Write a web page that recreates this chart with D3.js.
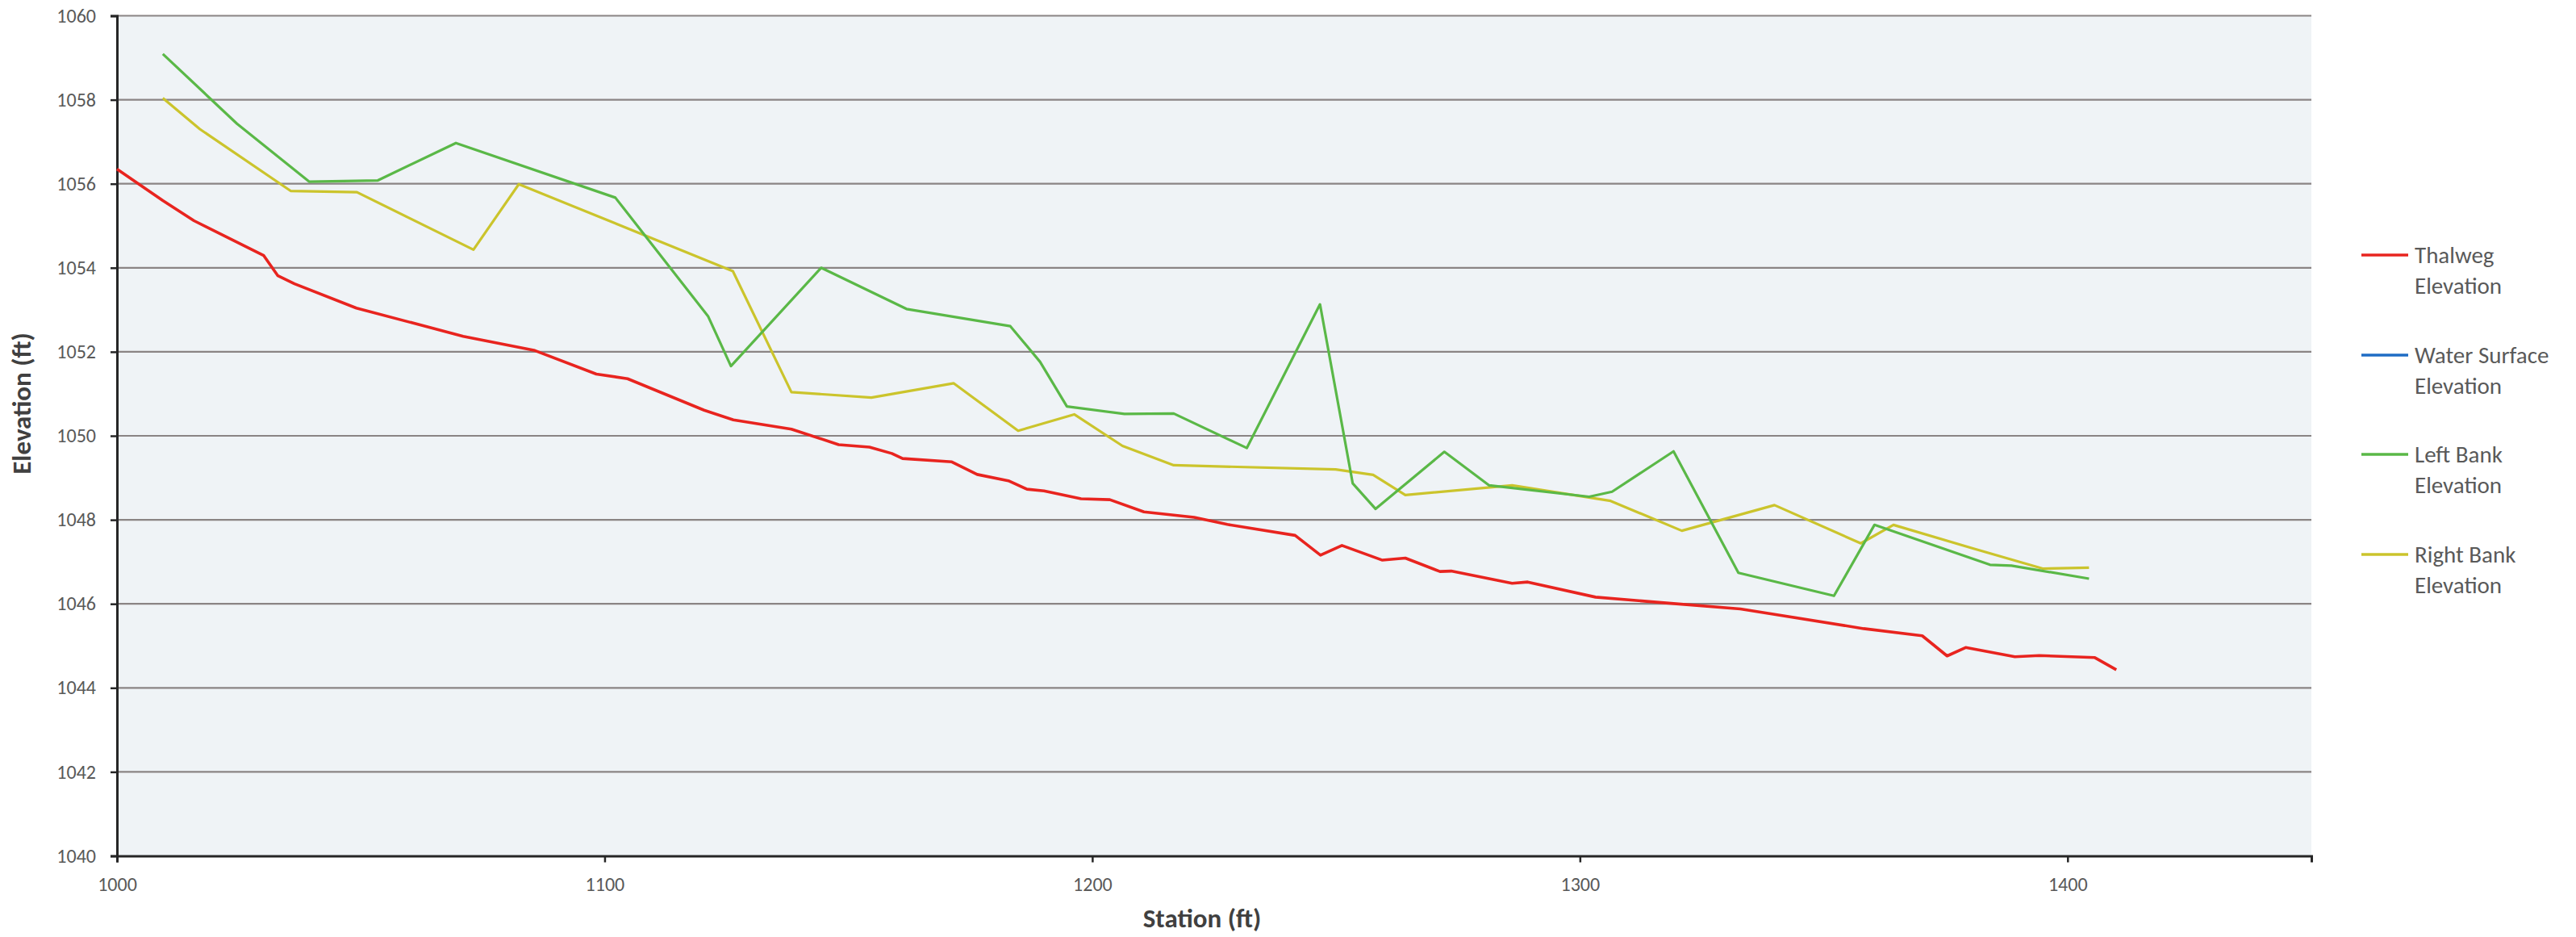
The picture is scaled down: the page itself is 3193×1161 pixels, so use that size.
<!DOCTYPE html>
<html>
<head>
<meta charset="utf-8">
<script src="https://cdn.jsdelivr.net/npm/d3@7"></script>
<style>
  html, body { margin: 0; padding: 0; background: #ffffff; }
  svg { display: block; }
  text { font-family: Calibri, Carlito, Lato, "Open Sans", sans-serif; }
</style>
</head>
<body>
<svg id="chart" width="3193" height="1161"></svg>
<script>
// ---------------- DATA ----------------
const thalwegStation = [1000.0, 1009.4, 1015.8, 1030.1, 1033.0, 1036.4, 1049.1, 1071.0, 1085.7, 1098.3, 1104.7, 1120.4, 1126.4, 1138.3, 1148.0, 1154.3, 1158.9, 1161.1, 1171.2, 1176.4, 1182.8, 1186.6, 1190.1, 1197.7, 1203.6, 1210.6, 1220.9, 1227.7, 1241.6, 1246.8, 1251.2, 1259.5, 1264.2, 1271.3, 1273.6, 1286.1, 1289.3, 1303.2, 1317.7, 1332.9, 1358.2, 1370.2, 1375.3, 1379.1, 1389.2, 1394.2, 1405.6, 1410.0];
const thalwegElev    = [1056.35, 1055.60, 1055.12, 1054.29, 1053.81, 1053.62, 1053.04, 1052.37, 1052.03, 1051.47, 1051.36, 1050.61, 1050.38, 1050.16, 1049.79, 1049.73, 1049.58, 1049.46, 1049.38, 1049.08, 1048.93, 1048.73, 1048.69, 1048.50, 1048.48, 1048.19, 1048.06, 1047.89, 1047.63, 1047.16, 1047.39, 1047.04, 1047.09, 1046.77, 1046.78, 1046.49, 1046.52, 1046.16, 1046.02, 1045.88, 1045.41, 1045.24, 1044.76, 1044.96, 1044.74, 1044.77, 1044.72, 1044.43];

const waterStation = [];
const waterElev    = [];

const leftStation = [1009.4, 1024.6, 1039.4, 1053.5, 1069.5, 1102.2, 1121.2, 1125.9, 1144.4, 1161.9, 1183.2, 1189.3, 1194.8, 1206.6, 1216.7, 1231.7, 1246.7, 1253.4, 1258.1, 1272.2, 1281.4, 1301.9, 1306.6, 1319.2, 1332.5, 1352.1, 1360.4, 1384.1, 1388.5, 1404.4];
const leftElev    = [1059.09, 1057.43, 1056.05, 1056.08, 1056.97, 1055.67, 1052.85, 1051.66, 1054.00, 1053.02, 1052.61, 1051.76, 1050.70, 1050.52, 1050.53, 1049.71, 1053.13, 1048.87, 1048.26, 1049.62, 1048.82, 1048.55, 1048.67, 1049.63, 1046.74, 1046.19, 1047.88, 1046.93, 1046.91, 1046.60];

const rightStation = [1009.4, 1017.0, 1035.6, 1049.2, 1073.1, 1082.4, 1126.3, 1138.3, 1154.7, 1171.6, 1184.8, 1196.3, 1206.2, 1216.7, 1249.9, 1257.6, 1264.2, 1286.1, 1306.3, 1320.9, 1339.9, 1357.6, 1364.3, 1380.3, 1394.9, 1404.4];
const rightElev    = [1058.04, 1057.30, 1055.83, 1055.80, 1054.43, 1055.99, 1053.92, 1051.04, 1050.91, 1051.25, 1050.12, 1050.51, 1049.76, 1049.30, 1049.20, 1049.07, 1048.59, 1048.82, 1048.45, 1047.74, 1048.35, 1047.44, 1047.88, 1047.33, 1046.84, 1046.86];

const seriesNames  = ["Thalweg Elevation", "Water Surface Elevation", "Left Bank Elevation", "Right Bank Elevation"];
const seriesColors = ["#e8241f", "#1f6cc4", "#5ab847", "#cbc42c"];

const xTickValues = [1000, 1100, 1200, 1300, 1400];
const yTickValues = [1040, 1042, 1044, 1046, 1048, 1050, 1052, 1054, 1056, 1058, 1060];
const xDomain = [1000, 1450];
const yDomain = [1040, 1060];

const xTitle = "Station (ft)";
const yTitle = "Elevation (ft)";

// ---------------- LAYOUT ----------------
const svg = d3.select("#chart");
const plot = { left: 145, right: 2865, top: 19.5, bottom: 1060.5 };

const x = d3.scaleLinear().domain(xDomain).range([plot.left, plot.right]);
const y = d3.scaleLinear().domain(yDomain).range([plot.bottom, plot.top]);

// plot background
svg.append("rect")
  .attr("x", plot.left).attr("y", plot.top)
  .attr("width", plot.right - plot.left).attr("height", plot.bottom - plot.top)
  .attr("fill", "#eff3f6");

// gridlines
svg.append("g")
  .selectAll("line")
  .data(yTickValues.filter(v => v !== yDomain[0]))
  .join("line")
  .attr("x1", plot.left).attr("x2", plot.right)
  .attr("y1", d => y(d)).attr("y2", d => y(d))
  .attr("stroke", "#8a8484").attr("stroke-width", 2.2);

// axes
const yAxis = d3.axisLeft(y).tickValues(yTickValues).tickSize(8).tickPadding(18).tickFormat(d3.format("d"));
const xAxis = d3.axisBottom(x).tickValues(xTickValues).tickSize(8).tickPadding(18).tickFormat(d3.format("d"));

const gy = svg.append("g").attr("transform", `translate(${plot.left},0)`).call(yAxis);
const gx = svg.append("g").attr("transform", `translate(0,${plot.bottom})`).call(xAxis);

[gx, gy].forEach(g => {
  g.select(".domain").attr("stroke", "#262626").attr("stroke-width", 3);
  g.selectAll(".tick line").attr("stroke", "#262626").attr("stroke-width", 2.5);
  g.selectAll(".tick text")
    .attr("fill", "#595959")
    .style("font-size", "24px")
    .style("font-family", "Calibri, Carlito, Lato, sans-serif");
});

// lines
const line = d3.line().x(d => x(d[0])).y(d => y(d[1]));
const seriesData = [
  d3.zip(thalwegStation, thalwegElev),
  d3.zip(waterStation, waterElev),
  d3.zip(leftStation, leftElev),
  d3.zip(rightStation, rightElev)
];
const drawOrder = [3, 2, 1, 0];
drawOrder.forEach(i => {
  if (seriesData[i].length === 0) return;
  svg.append("path")
    .datum(seriesData[i])
    .attr("d", line)
    .attr("fill", "none")
    .attr("stroke", seriesColors[i])
    .attr("stroke-width", i === 0 ? 3.6 : 3.2)
    .attr("stroke-linejoin", "round");
});

// axis titles
svg.append("text")
  .attr("x", 1490).attr("y", 1149)
  .attr("text-anchor", "middle")
  .attr("fill", "#404040")
  .style("font-weight", "bold")
  .style("font-size", "33px")
  .text(xTitle);

svg.append("text")
  .attr("transform", "translate(38,500) rotate(-90)")
  .attr("text-anchor", "middle")
  .attr("fill", "#404040")
  .style("font-weight", "bold")
  .style("font-size", "33px")
  .text(yTitle);

// legend
const legendY = [316, 440, 563, 687];
const legend = svg.append("g");
seriesNames.forEach((name, i) => {
  const g = legend.append("g").attr("transform", `translate(0,${legendY[i]})`);
  g.append("line")
    .attr("x1", 2927).attr("x2", 2985).attr("y1", 0).attr("y2", 0)
    .attr("stroke", seriesColors[i]).attr("stroke-width", 3.6);
  const words = name.split(" ");
  const first = words.slice(0, words.length - 1).join(" ");
  const second = words[words.length - 1];
  const t = g.append("text")
    .attr("x", 2993).attr("y", 10)
    .attr("fill", "#595959")
    .style("font-size", "29px");
  t.append("tspan").attr("x", 2993).attr("dy", 0).text(first);
  t.append("tspan").attr("x", 2993).attr("dy", 38).text(second);
});
</script>
</body>
</html>
